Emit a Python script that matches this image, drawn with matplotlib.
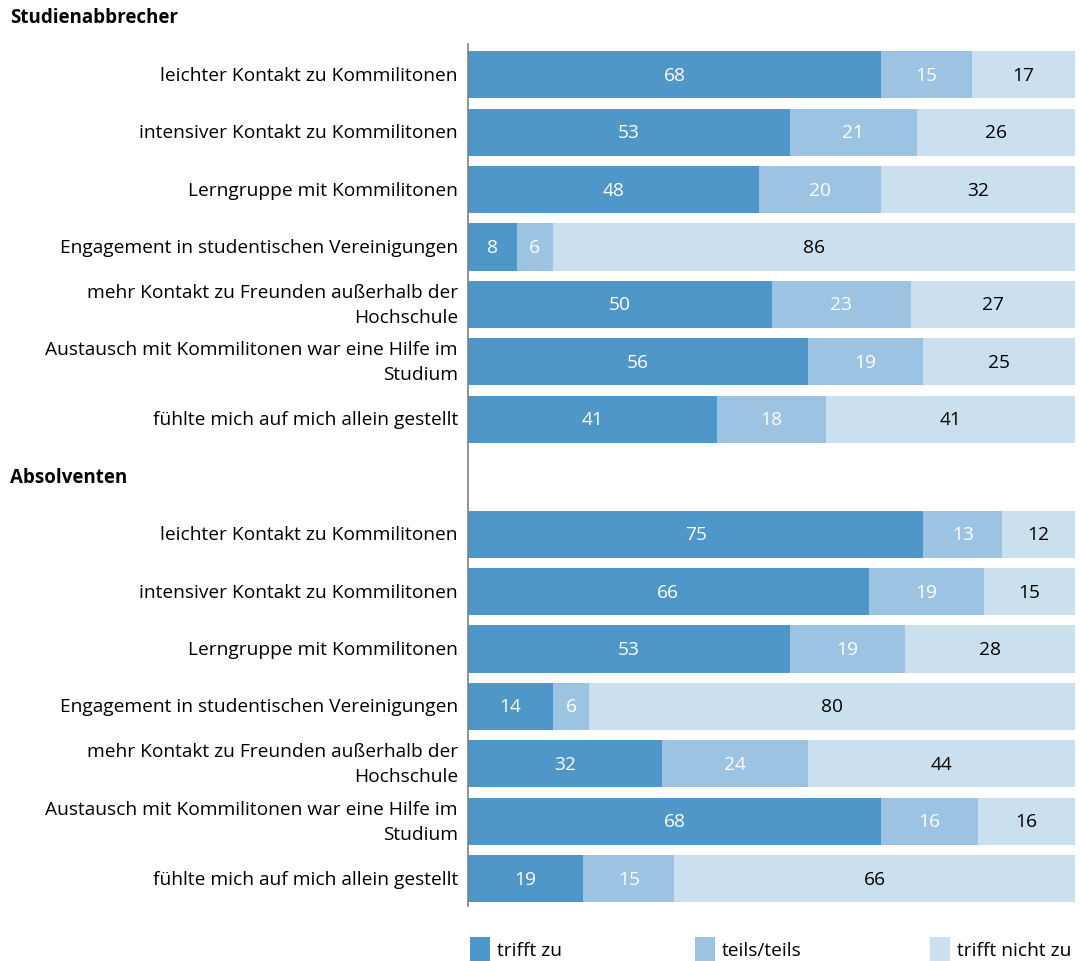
import matplotlib.pyplot as plt
from matplotlib.patches import Rectangle

plt.rcParams['font.family'] = ['Open Sans', 'DejaVu Sans']

groups = ['Studienabbrecher', 'Absolventen']
items = ['leichter Kontakt zu Kommilitonen',
         'intensiver Kontakt zu Kommilitonen',
         'Lerngruppe mit Kommilitonen',
         'Engagement in studentischen Vereinigungen',
         'mehr Kontakt zu Freunden außerhalb der\nHochschule',
         'Austausch mit Kommilitonen war eine Hilfe im\nStudium',
         'fühlte mich auf mich allein gestellt']
series = ['trifft zu', 'teils/teils', 'trifft nicht zu']
colors = ['#4f96c9', '#9cc3e2', '#cbe0ef']
text_colors = ['white', 'white', 'black']

abbrecher_zu = [68, 53, 48, 8, 50, 56, 41]
abbrecher_teils = [15, 21, 20, 6, 23, 19, 18]
abbrecher_nicht = [17, 26, 32, 86, 27, 25, 41]
absolventen_zu = [75, 66, 53, 14, 32, 68, 19]
absolventen_teils = [13, 19, 19, 6, 24, 16, 15]
absolventen_nicht = [12, 15, 28, 80, 44, 16, 66]

data = [[abbrecher_zu, abbrecher_teils, abbrecher_nicht],
        [absolventen_zu, absolventen_teils, absolventen_nicht]]

W, H = 1080, 962
fig = plt.figure(figsize=(W / 100, H / 100), dpi=100)
ax_top, ax_bot = 45, 907
ax = fig.add_axes([468 / W, 1 - ax_bot / H, (1075 - 468) / W, (ax_bot - ax_top) / H])

slot = 57.43
y0 = 18.3
ax.set_ylim((ax_bot - y0) / slot, (ax_top - y0) / slot)
ax.set_xlim(0, 100)

fs = 13.8
for g, name in enumerate(groups):
    hslot = g * 8
    hy = y0 + hslot * slot
    fig.text(10 / W, 1 - hy / H, name, fontsize=fs - 0.3, fontweight='bold', ha='left', va='center')
    for i, label in enumerate(items):
        y = hslot + 1 + i
        left = 0
        for s in range(3):
            v = data[g][s][i]
            ax.barh(y, v, left=left, height=0.82, color=colors[s], edgecolor='none')
            ax.text(left + v / 2, y, str(v), ha='center', va='center', fontsize=fs, color=text_colors[s])
            left += v
        ax.text(-1.65, y, label, ha='right', va='center', fontsize=fs, linespacing=1.5)

for sp in ['top', 'right', 'bottom']:
    ax.spines[sp].set_visible(False)
ax.spines['left'].set_color('#808080')
ax.spines['left'].set_linewidth(1.2)
ax.set_xticks([])
ax.set_yticks([])

leg_x = [470, 695, 930]
for k, name in enumerate(series):
    fig.add_artist(Rectangle((leg_x[k] / W, 0), 20 / W, 24 / H, transform=fig.transFigure,
                             color=colors[k], lw=0))
    fig.text((leg_x[k] + 27) / W, 1 - 951 / H, name, fontsize=fs, ha='left', va='center')

fig.savefig('out.png', dpi=100)
